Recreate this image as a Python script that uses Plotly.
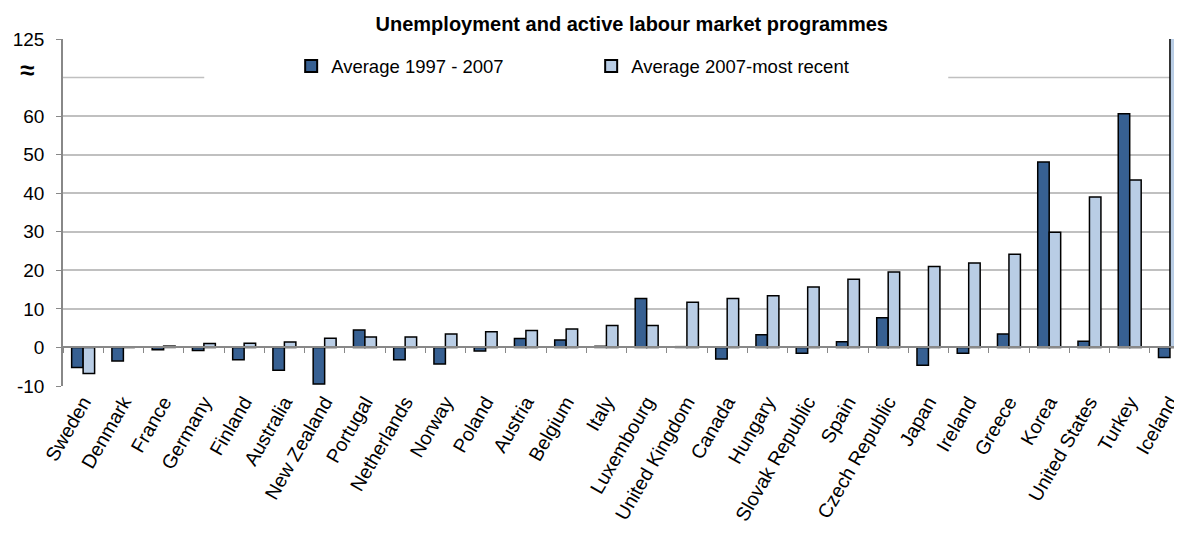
import plotly.graph_objects as go

countries = [
    "Sweden", "Denmark", "France", "Germany", "Finland", "Australia",
    "New Zealand", "Portugal", "Netherlands", "Norway", "Poland", "Austria",
    "Belgium", "Italy", "Luxembourg", "United Kingdom", "Canada", "Hungary",
    "Slovak Republic", "Spain", "Czech Republic", "Japan", "Ireland", "Greece",
    "Korea", "United States", "Turkey", "Iceland",
]
avg_1997_2007 = [
    -5.2, -3.5, -0.6, -0.8, -3.2, -5.9,
    -9.5, 4.5, -3.2, -4.3, -0.9, 2.3,
    1.9, 0.3, 12.7, 0.2, -3.0, 3.3,
    -1.5, 1.5, 7.7, -4.6, -1.5, 3.5,
    48.1, 1.6, 60.6, -2.6,
]
avg_2007_recent = [
    -6.75, 0.0, 0.35, 1.0, 1.1, 1.4,
    2.4, 2.7, 2.7, 3.5, 4.1, 4.4,
    4.8, 5.7, 5.7, 11.7, 12.7, 13.4,
    15.7, 17.7, 19.6, 21.0, 21.9, 24.2,
    29.9, 39.0, 43.4, 125.0,
]
y_tickvals = [-10, 0, 10, 20, 30, 40, 50, 60, 80]
y_ticktext = ["-10", "0", "10", "20", "30", "40", "50", "60", "125"]

DARK = "#376092"
LIGHT = "#B9CDE5"
GRID = "#C0C0C0"
AXIS = "#888888"
FONT = "Liberation Sans, Arial, sans-serif"

# page body has an 8px margin, so the figure is 8px smaller than the window
W, H = 1174, 528

fig = go.Figure()
fig.add_trace(go.Bar(
    x=countries, y=avg_1997_2007, name="Average 1997 - 2007",
    marker=dict(color=DARK, line=dict(color="black", width=1.5)),
))
fig.add_trace(go.Bar(
    x=countries, y=avg_2007_recent, name="Average 2007-most recent",
    marker=dict(color=LIGHT, line=dict(color="black", width=1.5)),
))
# invisible helper trace carrying the label axis
fig.add_trace(go.Scatter(
    x=countries, y=avg_1997_2007, xaxis="x2", mode="markers",
    marker=dict(opacity=0), showlegend=False, hoverinfo="skip",
))

fig.update_layout(
    width=W, height=H,
    margin=dict(l=55, r=0, t=31, b=150),
    paper_bgcolor="white", plot_bgcolor="white",
    font=dict(family=FONT, size=19, color="black"),
    barmode="group", bargap=0.43, bargroupgap=0,
    title=dict(
        text="<b>Unemployment and active labour market programmes</b>",
        x=0.511, xref="paper", xanchor="center",
        y=1 - 16 / H, yref="container", yanchor="middle",
        font=dict(size=20, family=FONT),
    ),
    legend=dict(
        orientation="h", x=0.205, xanchor="left", y=0.921, yanchor="middle",
        bgcolor="rgba(0,0,0,0)", font=dict(size=18.5),
        entrywidth=255, entrywidthmode="pixels", itemsizing="constant",
    ),
    xaxis=dict(
        type="category", range=[-0.5, 27.15],
        anchor="free", position=1 / 9,
        showline=True, linecolor=AXIS, linewidth=1.5,
        ticks="outside", tickson="boundaries", ticklen=5, tickcolor=AXIS,
        showticklabels=False, showgrid=False, fixedrange=True,
    ),
    xaxis2=dict(
        type="category", overlaying="x", matches="x", anchor="y", side="bottom",
        showline=False, ticks="", showgrid=False,
        tickangle=-60, tickfont=dict(size=19.5),
    ),
    yaxis=dict(
        range=[-10, 80], tickvals=y_tickvals, ticktext=y_ticktext,
        showgrid=True, gridcolor=GRID, gridwidth=1.5, zeroline=False,
        showline=True, linecolor=AXIS, linewidth=1.5,
        ticks="outside", ticklen=5, tickcolor=AXIS,
        ticklabelstandoff=8, tickfont=dict(size=19),
    ),
)

# broken gridline at 70 (gap behind the legend)
for x0, x1 in [(0, (205 - 63) / 1119), ((953 - 63) / 1119, 1)]:
    fig.add_shape(type="line", xref="paper", yref="y", x0=x0, x1=x1, y0=70, y1=70,
                  line=dict(color=GRID, width=1.5), layer="below")

# axis break marker
fig.add_annotation(text="<b>≈</b>", xref="paper", yref="y", x=-0.040, y=72,
                   showarrow=False, font=dict(size=26, family=FONT))

fig.write_html("out.html")
